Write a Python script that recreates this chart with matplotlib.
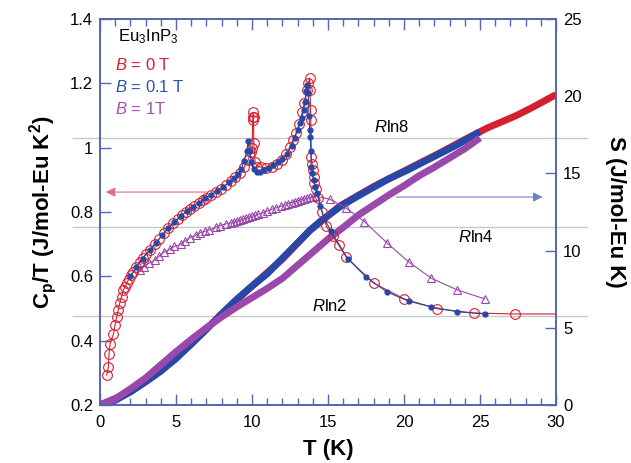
import numpy as np
import matplotlib
matplotlib.use("Agg")
import matplotlib.pyplot as plt

plt.rcParams['font.family'] = ['Liberation Sans', 'DejaVu Sans']
plt.rcParams['mathtext.fontset'] = 'custom'
plt.rcParams['mathtext.rm'] = 'Liberation Sans'
plt.rcParams['mathtext.it'] = 'Liberation Sans:italic'
plt.rcParams['mathtext.bf'] = 'Liberation Sans:bold'

# ---- Cp/T data (left axis) ----
T_b0 = [0.44, 0.55, 0.6, 0.66, 0.88, 0.99, 1.1, 1.2, 1.3, 1.42, 1.53, 1.65, 1.75, 1.9, 2.05,
        2.2, 2.4, 2.6, 2.8, 3.05, 3.3, 3.6, 3.9, 4.2, 4.5, 4.8, 5.1, 5.4, 5.65, 5.9, 6.2, 6.5,
        6.8, 7.0, 7.3, 7.6, 7.95, 8.3, 8.6, 8.9, 9.2, 9.5, 9.75, 9.95, 10.0, 10.05, 10.07, 10.08,
        10.1, 10.12, 10.2, 10.35, 10.6, 10.9, 11.3, 11.65, 11.95, 12.25, 12.5, 12.7, 12.9, 13.1,
        13.3, 13.45, 13.6, 13.7, 13.8, 13.82, 13.85, 13.87, 13.9, 13.95, 14.0, 14.05, 14.1, 14.2,
        14.35, 14.6, 14.9, 15.3, 15.7, 16.2, 18.0, 20.0, 22.2, 24.6, 27.3, 30.0]
C_b0 = [0.293, 0.319, 0.36, 0.39, 0.42, 0.449, 0.475, 0.495, 0.517, 0.537, 0.557, 0.568, 0.578,
        0.592, 0.605, 0.614, 0.63, 0.645, 0.657, 0.67, 0.682, 0.7, 0.717, 0.734, 0.75, 0.765,
        0.778, 0.79, 0.8, 0.81, 0.82, 0.828, 0.838, 0.845, 0.853, 0.862, 0.872, 0.884, 0.895,
        0.908, 0.922, 0.94, 0.962, 0.985, 1.0, 1.086, 1.095, 1.11, 1.095, 1.015, 0.955, 0.94,
        0.94, 0.938, 0.941, 0.95, 0.962, 0.98, 1.003, 1.025, 1.045, 1.075, 1.11, 1.14, 1.18,
        1.2, 1.216, 1.18, 1.117, 1.086, 0.972, 0.95, 0.93, 0.91, 0.89, 0.872, 0.845, 0.8, 0.755,
        0.725, 0.697, 0.66, 0.579, 0.53, 0.499, 0.486, 0.483, 0.483]

T_b01 = [2.0, 2.4, 2.8, 3.3, 3.7, 4.1, 4.5, 4.9, 5.3, 5.7, 6.1, 6.5, 6.9, 7.3, 7.7, 8.1, 8.5,
         8.8, 9.1, 9.3, 9.5, 9.65, 9.75, 9.85, 9.95, 10.1, 10.3, 10.5, 10.8, 11.1, 11.4, 11.7,
         12.0, 12.3, 12.6, 12.8, 13.0, 13.16, 13.27, 13.4, 13.5, 13.58, 13.64, 13.7, 13.75, 13.8,
         13.83, 13.87, 13.9, 13.95, 14.05, 14.15, 14.3, 14.5, 14.75, 15.2, 16.3, 17.5, 18.9,
         20.3, 21.8, 23.5, 25.3]
C_b01 = [0.6, 0.628, 0.655, 0.682, 0.705, 0.728, 0.75, 0.77, 0.787, 0.802, 0.817, 0.828, 0.842,
         0.853, 0.865, 0.878, 0.892, 0.905, 0.918, 0.935, 0.96, 0.99, 1.02, 0.99, 0.955, 0.935,
         0.925, 0.924, 0.93, 0.938, 0.945, 0.955, 0.966, 0.98, 1.005, 1.03, 1.055, 1.076, 1.092,
         1.117, 1.143, 1.175, 1.195, 1.17, 1.1, 1.055, 1.034, 0.99, 0.94, 0.92, 0.9, 0.879,
         0.858, 0.82, 0.78, 0.74, 0.655, 0.598, 0.551, 0.523, 0.505, 0.49, 0.483]

T_b1 = [2.6, 2.9, 3.2, 3.6, 3.9, 4.2, 4.6, 4.9, 5.3, 5.6, 5.9, 6.3, 6.6, 6.9, 7.2, 7.6, 7.9, 8.3,
        8.6, 8.8, 9.0, 9.2, 9.4, 9.6, 9.8, 10.0, 10.2, 10.4, 10.7, 11.0, 11.3, 11.6, 11.9, 12.2,
        12.4, 12.6, 12.8, 13.0, 13.2, 13.4, 13.6, 13.8, 14.0, 14.2, 15.1, 16.2, 17.4, 18.9, 20.3,
        21.8, 23.5, 25.3]
C_b1 = [0.62, 0.63, 0.64, 0.65, 0.663, 0.675, 0.685, 0.693, 0.7, 0.71, 0.72, 0.728, 0.735, 0.74,
        0.744, 0.752, 0.758, 0.763, 0.766, 0.769, 0.772, 0.775, 0.778, 0.781, 0.784, 0.787, 0.79,
        0.793, 0.797, 0.803, 0.808, 0.813, 0.818, 0.822, 0.826, 0.829, 0.832, 0.835, 0.838,
        0.841, 0.843, 0.846, 0.848, 0.849, 0.84, 0.812, 0.77, 0.703, 0.645, 0.594, 0.558, 0.53]

# ---- entropy (right axis) ----
T_S0 = [0, 2, 4, 6, 8, 10, 12, 13.8, 15.8, 18, 20.2, 22.4, 24.3, 25.5, 27.4, 28.5, 30]
S_b0 = [0, 0.85, 2.2, 3.95, 5.9, 7.7, 9.45, 11.3, 12.9, 14.15, 15.25, 16.35, 17.35, 17.95,
        18.75, 19.3, 20.1]
T_S01 = [0, 1, 2, 3, 4, 5, 6, 7, 8, 9, 10, 11, 12, 13, 13.8, 14.5, 15.8, 17, 18, 19, 20.2,
         21.3, 22.4, 23.4, 24.3, 25.0]
S_b01 = [0, 0.3, 0.85, 1.5, 2.2, 3.0, 3.95, 4.9, 5.9, 6.85, 7.7, 8.5, 9.5, 10.5, 11.3, 11.9,
         12.85, 13.55, 14.1, 14.65, 15.2, 15.75, 16.3, 16.8, 17.3, 17.7]
T_S1 = [0, 1, 2, 3, 4, 5, 6, 7, 8, 9, 10, 11, 12, 13, 14, 15, 16, 17, 18, 19, 20, 21, 22, 23,
        24, 25]
S_b1 = [0, 0.4, 1.05, 1.75, 2.6, 3.45, 4.25, 5.0, 5.7, 6.35, 6.95, 7.55, 8.2, 9.05, 9.9, 10.75,
        11.5, 12.3, 12.95, 13.6, 14.2, 14.85, 15.4, 16.0, 16.6, 17.3]

R = 8.314
rln_n = [2, 4, 8]
rln_text = ["$R$ln2", "$R$ln4", "$R$ln8"]

red = '#d4202e'
blue = '#2848a8'
purple = '#9a48aa'
spine_c = '#5664b4'

fig = plt.figure(figsize=(6.31, 4.63), dpi=100)
ax = fig.add_axes([100/631, 58/463, 456/631, 386/463])
ax2 = ax.twinx()

# entropy + reference lines on right axis
for n in rln_n:
    ax2.axhline(R*np.log(n), xmin=-0.059, xmax=1.068, color='#c4cac8', lw=1, clip_on=False, zorder=1)
ax2.plot(T_S0, S_b0, color=red, lw=5, solid_capstyle='butt', zorder=2)
ax2.plot(T_S01, S_b01, color=blue, lw=5, solid_capstyle='butt', zorder=3)
ax2.plot(T_S1, S_b1, color=purple, lw=5, solid_capstyle='butt', zorder=4)

# Cp/T on left axis, drawn above
ax.set_zorder(ax2.get_zorder() + 1)
ax.patch.set_visible(False)
ax.plot(T_b1, C_b1, color=purple, lw=0.8, marker='^', ms=6, mfc='none', mew=0.8)
ax.plot(T_b0, C_b0, color=red, lw=0.8, marker='o', ms=7, mfc='none', mew=0.8,
        markevery=slice(0, -1))
ax.plot(T_b01, C_b01, color=blue, lw=0.8, marker='o', ms=3.5, mec=blue, mfc=blue)

ax.set_xlim(0, 30)
ax.set_ylim(0.2, 1.4)
ax2.set_ylim(0, 25)
ax.set_xticks(range(0, 31, 5))
ax.set_xticks(range(0, 31), minor=True)
ax.set_yticks([0.2, 0.4, 0.6, 0.8, 1.0, 1.2, 1.4])
ax.set_yticklabels(['0.2', '0.4', '0.6', '0.8', '1', '1.2', '1.4'])
ax2.set_yticks(range(0, 26, 5))

for a in (ax, ax2):
    for s in a.spines.values():
        s.set_color(spine_c)
        s.set_linewidth(1.2)
ax.tick_params(axis='x', which='both', direction='in', top=True, color=spine_c, labelsize=12, pad=7)
ax.tick_params(axis='x', which='major', length=8, width=1)
ax.tick_params(axis='x', which='minor', length=5, width=1)
ax.tick_params(axis='y', direction='in', length=8, width=1, color=spine_c, labelsize=12, pad=5)
ax2.tick_params(axis='y', direction='in', length=8, width=1, color=spine_c, labelsize=12, pad=5)

ax.set_xlabel('T (K)', fontsize=16, fontweight='bold', labelpad=7)
ax.set_ylabel(r'C$_\mathbf{p}$/T (J/mol-Eu K$^\mathbf{2}$)', fontsize=16, fontweight='bold', labelpad=8)
ax2.set_ylabel('S (J/mol-Eu K)', fontsize=16, fontweight='bold', rotation=270, labelpad=32)

# legend-like labels
ax.text(0.04, 0.955, 'Eu$_3$InP$_3$', transform=ax.transAxes, fontsize=12, va='center')
ax.text(0.033, 0.88, '$B$ = 0 T', transform=ax.transAxes, fontsize=12, color=red, va='center')
ax.text(0.033, 0.823, '$B$ = 0.1 T', transform=ax.transAxes, fontsize=12, color='#3050b0', va='center')
ax.text(0.033, 0.766, '$B$ = 1T', transform=ax.transAxes, fontsize=12, color='#a050b0', va='center')

# Rln labels
ax2.text(19.2, 18.0, rln_text[2], fontsize=12, ha='center', va='center')
ax2.text(24.7, 10.9, rln_text[1], fontsize=12, ha='center', va='center')
ax2.text(15.1, 6.4, rln_text[0], fontsize=12, ha='center', va='center')

# arrows
ax.annotate('', xy=(0.2, 0.862), xytext=(7.2, 0.862),
            arrowprops=dict(arrowstyle='-|>', color='#e07078', lw=0.8, mutation_scale=14))
ax2.annotate('', xy=(29.3, 13.47), xytext=(19.3, 13.47),
            arrowprops=dict(arrowstyle='-|>', color='#7080c8', lw=0.8, mutation_scale=14))

fig.savefig('out.png', dpi=100)
